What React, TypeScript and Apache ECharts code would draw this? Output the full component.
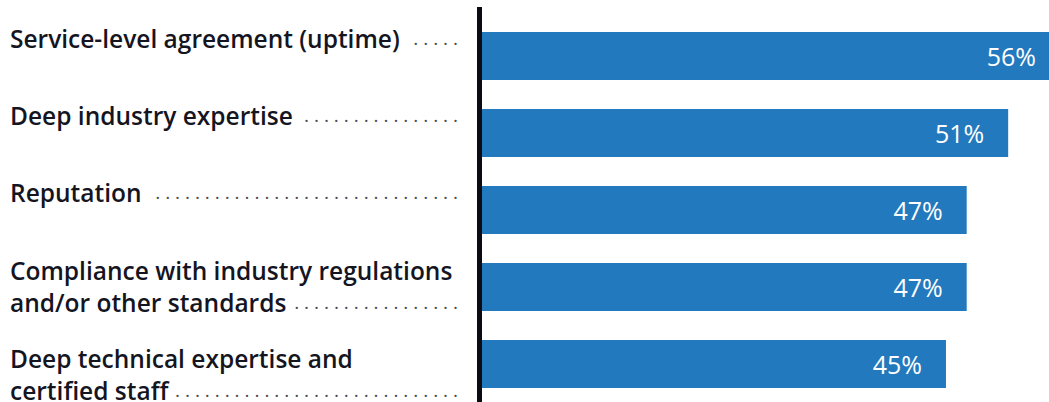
import React, { useEffect, useRef } from "react";
import * as echarts from "echarts";

const categories = [
  "Service-level agreement (uptime)",
  "Deep industry expertise",
  "Reputation",
  "Compliance with industry regulations\nand/or other standards",
  "Deep technical expertise and\ncertified staff",
];
const values = [56, 51, 47, 47, 45];
const axisMax = 56;

const LABEL_FONT = "Open Sans";
const LABEL_SIZE = 24.5;
const DOT_FONT = "Open Sans";
const DOT_SIZE = 19;
const LABEL_WIDTH = 448;
const labelShift = [-18, -18, -18, -1, 10];

function measure(text: string, font: string): number {
  const c = document.createElement("canvas").getContext("2d");
  if (!c) return text.length * 10;
  c.font = font;
  return c.measureText(text).width;
}

function buildLabel(name: string): string {
  const lines = name.split("\n");
  const last = lines[lines.length - 1];
  const tw = measure(last, `600 ${LABEL_SIZE}px "${LABEL_FONT}"`);
  const pitch = measure(". ", `${DOT_SIZE}px "${DOT_FONT}"`);
  const space = measure(" ", `${DOT_SIZE}px "${DOT_FONT}"`);
  const avail = LABEL_WIDTH - tw - 4;
  const n = Math.max(0, Math.floor((avail + space) / pitch));
  const dots = Array(n).fill(".").join(" ");
  const out = lines.map((l) => `{t|${l}}`);
  out[out.length - 1] = out[out.length - 1] + `{d|${dots}}`;
  return out.join("\n");
}

export default function App() {
  const ref = useRef<HTMLDivElement>(null);
  useEffect(() => {
    if (!ref.current) return;
    const chart = echarts.init(ref.current, undefined, { renderer: "svg" });
    const catData = categories.map((c, i) => {
      const s = labelShift[i];
      return {
        value: c,
        textStyle: {
          padding: s < 0 ? [0, 0, -2 * s, 0] : [2 * s, 0, 0, 0],
        },
      };
    });
    chart.setOption({
      animation: false,
      grid: {
        left: 479.5,
        right: -11,
        top: 17.5,
        height: 385,
        containLabel: false,
        outerBoundsMode: "none",
      },
      xAxis: {
        type: "value",
        min: 0,
        max: axisMax,
        show: false,
      },
      yAxis: {
        type: "category",
        inverse: true,
        data: catData,
        z: 5,
        axisLine: { show: true, lineStyle: { color: "#0b0b14", width: 5 } },
        axisTick: { show: false },
        splitLine: { show: false },
        axisLabel: {
          interval: 0,
          margin: 21.5,
          width: LABEL_WIDTH,
          formatter: (v: string) => buildLabel(v),
          rich: {
            t: {
              fontFamily: LABEL_FONT,
              fontWeight: 600,
              fontSize: LABEL_SIZE,
              color: "#15151f",
              lineHeight: 32,
              align: "left",
            },
            d: {
              fontFamily: DOT_FONT,
              fontSize: DOT_SIZE,
              color: "#4a4a52",
              lineHeight: 32,
              align: "right",
            },
          },
        },
      },
      graphic: [
        {
          type: "rect",
          shape: { x: 477, y: 7, width: 5, height: 12 },
          style: { fill: "#0b0b14" },
          z: 10,
        },
      ],
      series: [
        {
          type: "bar",
          data: values,
          barWidth: 48,
          itemStyle: { color: "#2379bd" },
          label: {
            show: true,
            position: "insideRight",
            distance: 24,
            formatter: "{c}%",
            color: "#ffffff",
            fontFamily: "Open Sans",
            fontSize: 25,
          },
        },
      ],
    });
    return () => chart.dispose();
  }, []);
  return (
    <div
      ref={ref}
      style={{ position: "absolute", left: 0, top: 0, width: 1049, height: 402 }}
    />
  );
}
